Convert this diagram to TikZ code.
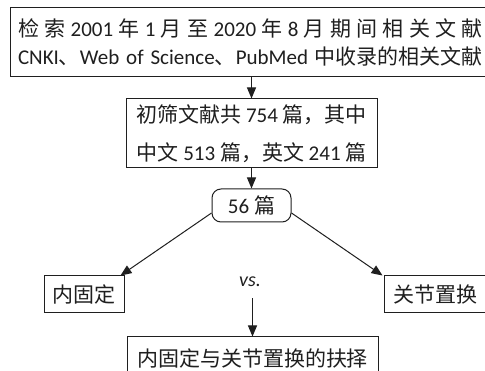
\documentclass[tikz,border=0pt]{standalone}
\usepackage{fontspec}
\setmainfont{Carlito}
\newfontfamily\cjk{Noto Sans CJK SC}
\newcommand\zh[1]{{\cjk #1}}
\usetikzlibrary{arrows.meta}
\definecolor{ink}{gray}{0.12}
\tikzset{
  box/.style={draw=ink, line width=1pt, inner sep=0pt, text=ink, align=center},
  rbox/.style={box, rounded corners=9pt},
  arr/.style={draw=ink, line width=1pt, -{Triangle[length=11pt,width=9pt]}},
  txt21/.style={font=\fontsize{21pt}{28pt}\selectfont},
}
\begin{document}
\begin{tikzpicture}[x=1pt,y=-1pt]
\useasboundingbox (0,0) rectangle (485,371);
\clip (0,0) rectangle (485,371);
\fill[white] (0,0) rectangle (485,371);
\node[box, txt21, minimum width=481pt, minimum height=69pt] (top) at (250.5,42.5)
  {\makebox[465pt][s]{\zh{检} \zh{索} 2001 \zh{年} 1 \zh{月} \zh{至} 2020 \zh{年} 8 \zh{月} \zh{期} \zh{间} \zh{相} \zh{关} \zh{文} \zh{献}}\\
   \makebox[465pt][s]{CNKI\zh{、}Web of Science\zh{、}PubMed \zh{中收录的相关文献}}};
\node[box, font=\fontsize{21pt}{38pt}\selectfont, minimum width=251pt, minimum height=69pt] (mid) at (251.5,133.5)
  {\zh{初筛文献共} 754 \zh{篇，其中}\\ \zh{中文} 513 \zh{篇，英文} 241 \zh{篇}};
\node[rbox, txt21, minimum width=79pt, minimum height=33pt] (n56) at (251.5,205.5) {56 \zh{篇}};
\node[box, txt21, minimum width=80pt, minimum height=37pt] (nei) at (84,294.5) {\zh{内固定}};
\node[box, txt21, minimum width=102pt, minimum height=37pt] (guan) at (435,294.5) {\zh{关节置换}};
\node[inner sep=0pt, text=ink, font=\fontsize{20pt}{22pt}\selectfont\itshape, minimum height=32pt] (vs) at (250,282) {vs.};
\node[box, txt21, minimum width=251pt, minimum height=42pt] (bot) at (252.5,358) {\zh{内固定与关节置换的扶择}};
\draw[arr] (top.south -| mid.north) -- (mid.north);
\draw[arr] (mid.south) -- (mid.south |- n56.north);
\draw[arr] ([yshift=-7.5pt]n56.west) -- ([xshift=-4pt]nei.north east);
\draw[arr] ([yshift=-7.5pt]n56.east) -- ([xshift=-1pt]guan.north west);
\draw[arr] (vs.south -| bot.north) -- (bot.north);
\end{tikzpicture}
\end{document}
